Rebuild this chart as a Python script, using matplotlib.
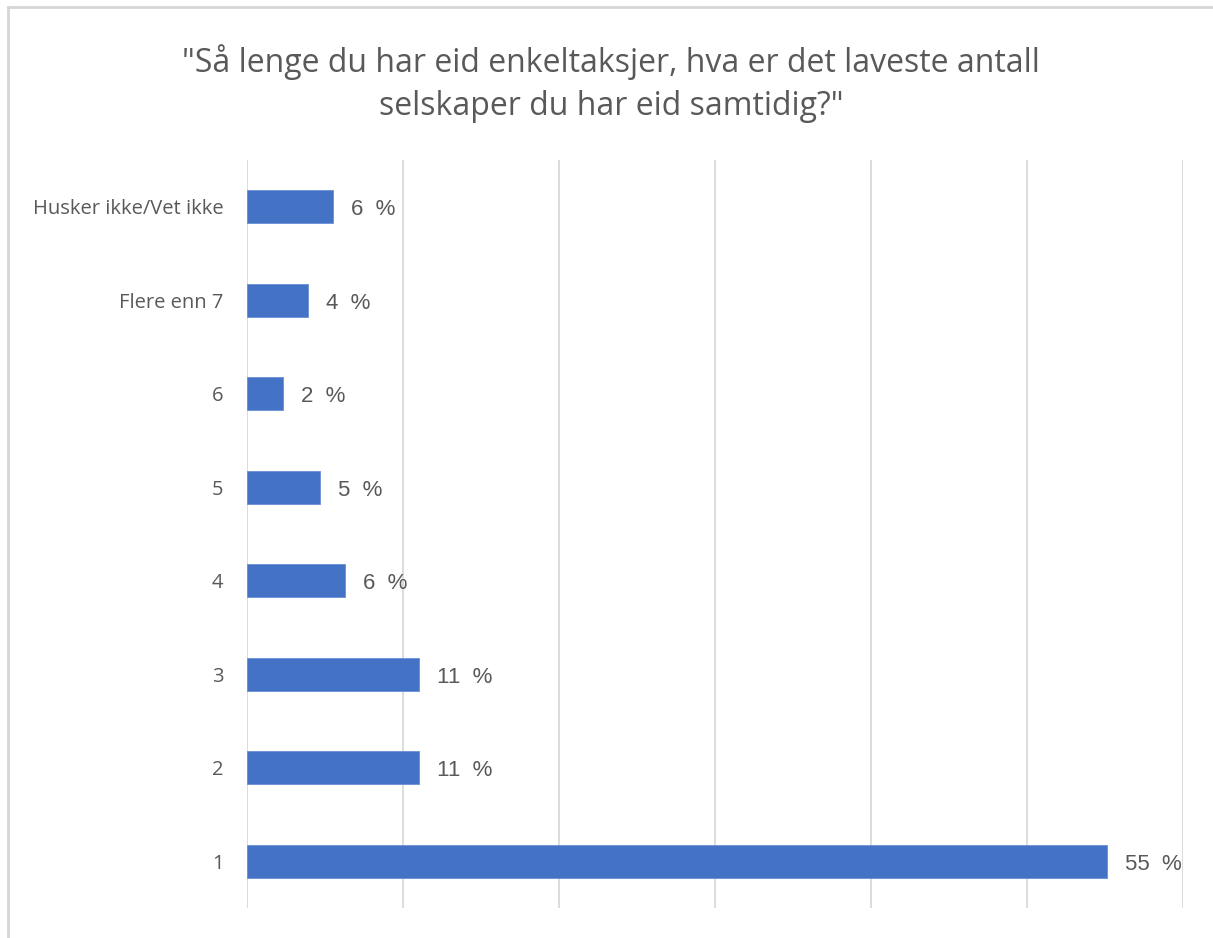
import matplotlib
matplotlib.use("Agg")
import matplotlib.pyplot as plt
from matplotlib.lines import Line2D

categories = ["1", "2", "3", "4", "5", "6", "Flere enn 7", "Husker ikke/Vet ikke"]
values = [55.1, 11.0, 11.0, 6.3, 4.7, 2.3, 3.9, 5.5]
value_labels = ["55  %", "11  %", "11  %", "6  %", "5  %", "2  %", "4  %", "6  %"]
title = '"Så lenge du har eid enkeltaksjer, hva er det laveste antall\nselskaper du har eid samtidig?"'

grey_text = "#595959"
grid_col = "#d9d9d9"
bar_col = "#4472c4"

fig = plt.figure(figsize=(12.13, 9.38), dpi=100)
ax = fig.add_axes([0.2036, 0.032, 0.7717, 0.7974])

y = range(len(categories))
ax.barh(y, values, height=0.35, color=bar_col, edgecolor="#6a8fd6", linewidth=0.6, zorder=3)

for yi, v, lab in zip(y, values, value_labels):
    ax.annotate(lab, (v, yi), xytext=(13, -2), textcoords="offset points",
                va="center", ha="left", fontsize=16, color=grey_text,
                family="Liberation Sans")

ax.set_xlim(0, 60)
ax.set_ylim(-0.5, len(categories) - 0.5)
ax.set_xticks(range(0, 61, 10))
ax.set_xticklabels([])
ax.set_yticks(list(y))
ax.set_yticklabels(categories, fontsize=14.5, color=grey_text, family="Open Sans")
ax.tick_params(axis="both", length=0)
ax.tick_params(axis="y", pad=17)
ax.grid(axis="x", color=grid_col, linewidth=1.3, zorder=0)
for s in ax.spines.values():
    s.set_visible(False)

fig.text(0.504, 0.911, title, ha="center", va="center", fontsize=23,
         color=grey_text, family="Open Sans", linespacing=1.4)

# light frame on top and left edge
fig.add_artist(Line2D([0.0062, 0.0062], [0, 0.9925], transform=fig.transFigure,
                      color="#d6d6d6", linewidth=2))
fig.add_artist(Line2D([0.0062, 1], [0.9925, 0.9925], transform=fig.transFigure,
                      color="#d6d6d6", linewidth=2))

fig.savefig("out.png", dpi=100)
plt.close(fig)
